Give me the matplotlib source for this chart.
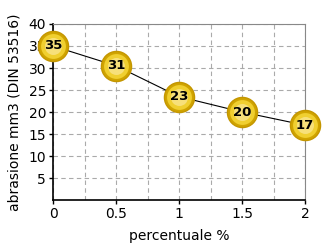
import numpy as np
import matplotlib.pyplot as plt

# data
percent = [0, 0.5, 1, 1.5, 2]
abrasion = [35, 30.5, 23.5, 20, 17]
point_labels = ["35", "31", "23", "20", "17"]

fig = plt.figure(figsize=(3.28, 2.47), dpi=100)
ax = fig.add_axes([53 / 328, 47 / 247, 252 / 328, 176 / 247])

ax.set_xlim(0, 2)
ax.set_ylim(0, 40)
ax.set_xticks([0, 0.5, 1, 1.5, 2])
ax.set_xticklabels(["0", "0.5", "1", "1.5", "2"])
ax.set_yticks(range(5, 45, 5))
ax.set_xticks(np.arange(0.25, 2, 0.5), minor=True)
ax.tick_params(which="minor", length=0)
ax.tick_params(which="major", length=3, width=1, color="black", labelsize=10, pad=2)
ax.grid(True, which="both", axis="x", color="#aaaaaa", linestyle=(0, (4, 3)), linewidth=0.8)
ax.grid(True, which="major", axis="y", color="#aaaaaa", linestyle=(0, (4, 3)), linewidth=0.8)
ax.set_axisbelow(True)

for s in ["top", "right"]:
    ax.spines[s].set_color("#888888")
for s in ["left", "bottom"]:
    ax.spines[s].set_color("black")
    ax.spines[s].set_linewidth(1.2)

ax.plot(percent, abrasion, color="black", linewidth=0.8, zorder=3)
# sphere-like markers
ax.scatter(percent, abrasion, s=470, color="#d0a400", edgecolors="#c49600", linewidths=1, zorder=4, clip_on=False)
ax.scatter(percent, abrasion, s=320, color="#f0cf30", linewidths=0, zorder=5, clip_on=False)
ax.scatter(percent, abrasion, s=150, color="#f7e07a", linewidths=0, zorder=6, clip_on=False)
for xv, yv, lab in zip(percent, abrasion, point_labels):
    ax.text(xv, yv, lab, ha="center", va="center", fontsize=9.5, fontweight="bold", color="black", zorder=7)

ax.set_xlabel("percentuale %", fontsize=10, labelpad=6)
ax.set_ylabel("abrasione mm3 (DIN 53516)", fontsize=10, labelpad=5)

fig.savefig("out.png", dpi=100)
